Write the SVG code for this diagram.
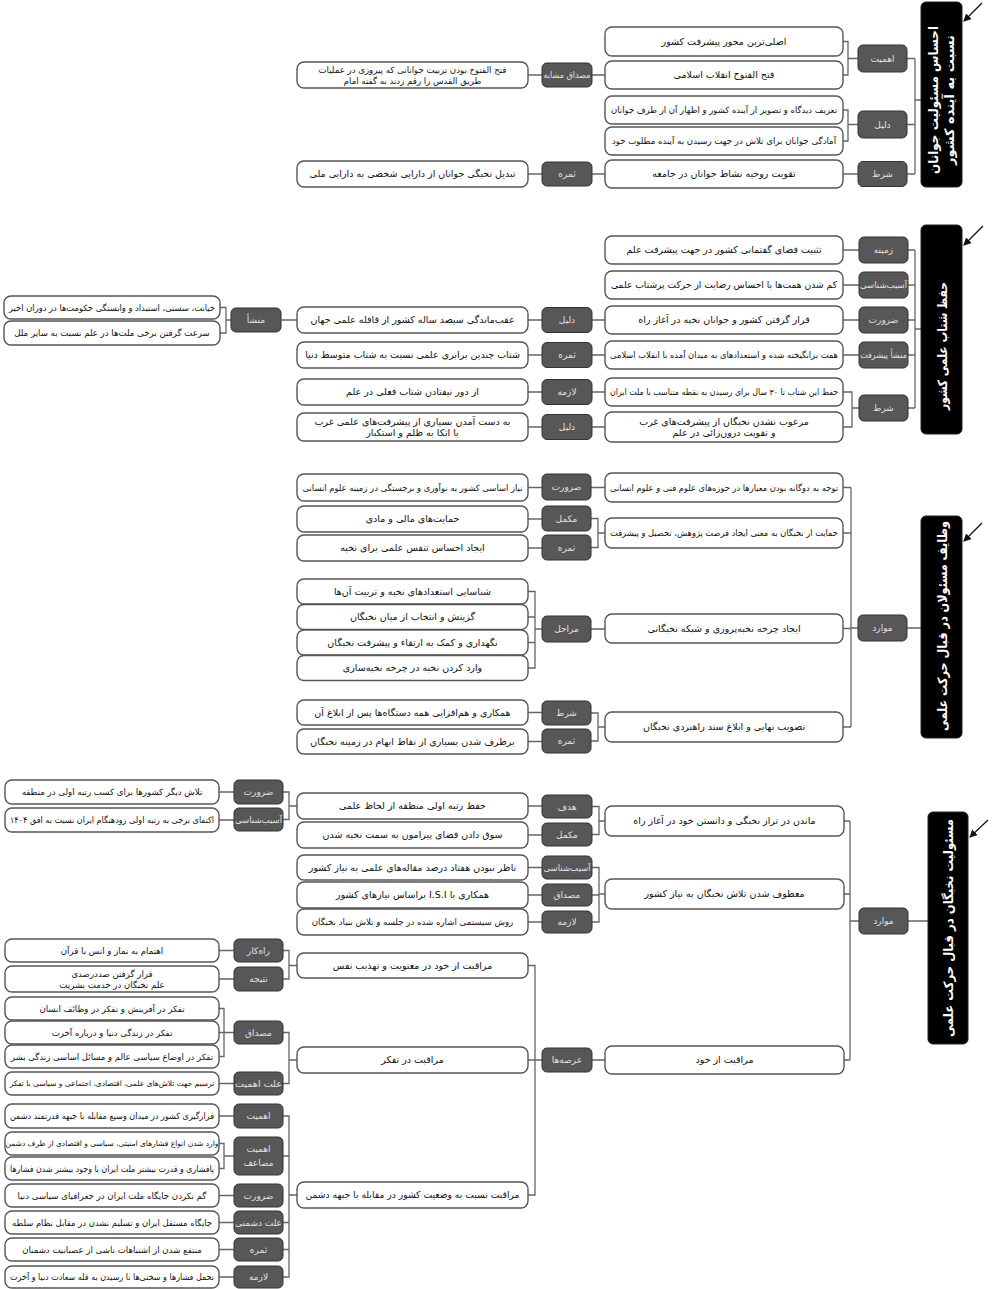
<svg xmlns="http://www.w3.org/2000/svg" width="993" height="1289" viewBox="0 0 993 1289">
<defs>
<style>
.b{fill:#fff;stroke:#555;stroke-width:1.4}
.l{fill:#575757;stroke:#333;stroke-width:1}
.k{fill:#000;stroke:#222;stroke-width:1}
.c{fill:none;stroke:#666;stroke-width:1.3}
.a{fill:none;stroke:#111;stroke-width:1.2}
text{font-family:"DejaVu Sans",sans-serif;direction:rtl;text-anchor:middle}
.bt{font-size:9.5px;fill:#111}
.st{font-size:8.6px;fill:#111}
.xt{font-size:7.5px;fill:#111}
.lt{font-size:9px;fill:#e2e2e2}
.tt{font-size:13px;font-weight:bold;fill:#fff}
</style>
<marker id="ah" markerWidth="8" markerHeight="8" refX="7" refY="4" orient="auto" markerUnits="userSpaceOnUse">
<path d="M0,0 L8,4 L0,8 z" fill="#111"/>
</marker>
</defs>
<rect width="993" height="1289" fill="#fff"/>

<g id="connectors">
<path class="c" d="M915,100H921M915,58.5V174M907,58.5H915M907,124.5H915M907,174H915"/>
<path class="c" d="M843,41.5H848V75H843M848,58.5H858M843,110H848V141H843M848,124.5H858M843,174H858"/>
<path class="c" d="M592,75H605M528,75H542M592,174H605M528,174H542"/>
<path class="c" d="M915,250V408M915,329H921M907,250H915M907,285H915M907,320H915M907,355H915M907,408H915"/>
<path class="c" d="M843,250H859M843,285H859M843,320H859M843,355H859M843,392H852V427H843M852,408H859"/>
<path class="c" d="M592,320H605M528,320H542M592,355H605M528,355H542M592,392H605M528,392H542M592,427H605M528,427H542"/>
<path class="c" d="M281,320H297M220,307.5H226V333H220M226,320H231"/>
<path class="c" d="M851,487.5V727M843,487.5H851M843,533H851M843,628.5H851M843,727H851M851,628H858M907,628H921"/>
<path class="c" d="M591,487.5H605M528,487.5H542M591,518.5H598V547.5H591M598,533H605M528,519H542M528,548H542M591,629H605"/>
<path class="c" d="M528,591.5H535V668H528M528,617H535M528,642.5H535M535,629H542"/>
<path class="c" d="M591,713H598V741H591M598,727H605M528,712.5H542M528,741.5H542"/>
<path class="c" d="M908,921H928M850,921H859M850,821V1060M844,821H850M844,894H850M844,1060H850"/>
<path class="c" d="M592,806.5H599V834.5H592M599,821H605M592,867.5H599V922H592M592,895H599M599,894H605"/>
<path class="c" d="M528,806H542M528,835H542M528,867.5H542M528,895H542M528,922H542M592,1060H605"/>
<path class="c" d="M528,965.5H535V1195H528M528,1060H542"/>
<path class="c" d="M219,792H234M219,820H234M283,792H289V819.5H283M289,806H297"/>
<path class="c" d="M219,950.5H234M219,979H234M283,950.5H289V979H283M289,965.5H297"/>
<path class="c" d="M219,1008.5H224V1056.5H219M219,1032.5H234M283,1032.5H289V1083.5H283M289,1060H297M219,1083.5H234"/>
<path class="c" d="M219,1116H234M219,1143.5H224V1168.5H219M224,1156H234M219,1195.5H234M219,1222.5H234M219,1249.5H234M219,1277H234"/>
<path class="c" d="M283,1116H289V1277H283M283,1156H289M289,1195H297M283,1222.5H289M283,1249.5H289"/>
<line class="a" x1="982" y1="3" x2="964" y2="21" marker-end="url(#ah)"/>
<line class="a" x1="983" y1="226" x2="964" y2="245" marker-end="url(#ah)"/>
<line class="a" x1="982" y1="523" x2="964" y2="541" marker-end="url(#ah)"/>
<line class="a" x1="988" y1="820" x2="970" y2="837" marker-end="url(#ah)"/>
</g>

<!-- SECTION 1 -->
<g id="t1"><rect class="k" x="921" y="2" width="41" height="185" rx="5"/>
<text class="tt" transform="translate(941.5,100) rotate(-90)"><tspan x="0" y="-3.5" textLength="148" lengthAdjust="spacingAndGlyphs">احساس مسئولیت جوانان</tspan><tspan x="0" y="12.5" textLength="130" lengthAdjust="spacingAndGlyphs">نسبت به آینده کشور</tspan></text></g>
<g id="l1a"><rect class="l" x="858" y="45" width="49" height="27" rx="5"/><text class="lt" x="882.5" y="61.5">اهمیت</text></g>
<g id="l1b"><rect class="l" x="858" y="111" width="49" height="27" rx="5"/><text class="lt" x="882.5" y="127.5">دلیل</text></g>
<g id="l1c"><rect class="l" x="858" y="161.5" width="49" height="25" rx="5"/><text class="lt" x="882.5" y="177">شرط</text></g>
<g id="b1a"><rect class="b" x="605" y="27" width="238" height="29" rx="7"/><text class="bt" x="724" y="45">اصلی&#8204;ترین محور پیشرفت کشور</text></g>
<g id="b1b"><rect class="b" x="605" y="61" width="238" height="28" rx="7"/><text class="bt" x="724" y="78.3">فتح الفتوح انقلاب اسلامی</text></g>
<g id="b1c"><rect class="b" x="605" y="96" width="238" height="28" rx="7"/><text class="st" x="724" y="113.3" textLength="226" lengthAdjust="spacingAndGlyphs">تعریف دیدگاه و تصویر از آینده کشور و اظهار آن از طرف جوانان</text></g>
<g id="b1d"><rect class="b" x="605" y="127" width="238" height="28" rx="7"/><text class="st" x="724" y="144.3">آمادگی جوانان برای تلاش در جهت رسیدن به آینده مطلوب خود</text></g>
<g id="b1e"><rect class="b" x="605" y="160" width="238" height="28" rx="7"/><text class="bt" x="724" y="177.3">تقویت روحیه نشاط جوانان در جامعه</text></g>
<g id="l1d"><rect class="l" x="542" y="63" width="50" height="24" rx="5"/><text class="lt" x="567" y="78" textLength="47" lengthAdjust="spacingAndGlyphs">مصداق مشابه</text></g>
<g id="m1a"><rect class="b" x="297" y="62" width="231" height="26" rx="7"/><text class="st"><tspan x="412.5" y="72.5">فتح الفتوح بودن تربیت جوانانی که پیروزی در عملیات</tspan><tspan x="412.5" y="83.5">طریق القدس را رقم زدند به گفته امام</tspan></text></g>
<g id="l1e"><rect class="l" x="542" y="162" width="50" height="24" rx="5"/><text class="lt" x="567" y="177">ثمره</text></g>
<g id="m1b"><rect class="b" x="297" y="161" width="231" height="26" rx="7"/><text class="bt" x="412.5" y="177.3">تبدیل نخبگی جوانان از دارایی شخصی به دارایی ملی</text></g>

<!-- SECTION 2 -->
<g id="t2"><rect class="k" x="921" y="225" width="41" height="209" rx="5"/>
<text class="tt" transform="translate(941.5,346) rotate(-90)" x="0" y="5" textLength="128" lengthAdjust="spacingAndGlyphs">حفظ شتاب علمی کشور</text></g>
<g id="l2a"><rect class="l" x="859" y="237" width="49" height="26" rx="5"/><text class="lt" x="883.5" y="253">زمینه</text></g>
<g id="l2b"><rect class="l" x="859" y="272" width="49" height="26" rx="5"/><text class="lt" x="883.5" y="288" textLength="47" lengthAdjust="spacingAndGlyphs">آسیب&#8204;شناسی</text></g>
<g id="l2c"><rect class="l" x="859" y="307" width="49" height="26" rx="5"/><text class="lt" x="883.5" y="323">ضرورت</text></g>
<g id="l2d"><rect class="l" x="859" y="342" width="49" height="26" rx="5"/><text class="lt" x="883.5" y="358" textLength="47" lengthAdjust="spacingAndGlyphs">منشأ پیشرفت</text></g>
<g id="l2e"><rect class="l" x="859" y="395" width="49" height="26" rx="5"/><text class="lt" x="883.5" y="411">شرط</text></g>
<g id="b2a"><rect class="b" x="605" y="236" width="238" height="28" rx="7"/><text class="bt" x="724" y="253.3">تثبیت فضای گفتمانی کشور در جهت پیشرفت علم</text></g>
<g id="b2b"><rect class="b" x="605" y="271" width="238" height="28" rx="7"/><text class="bt" x="724" y="288.3" textLength="226" lengthAdjust="spacingAndGlyphs">کم شدن همت&#8204;ها با احساس رضایت از حرکت پرشتاب علمی</text></g>
<g id="b2c"><rect class="b" x="605" y="306" width="238" height="28" rx="7"/><text class="bt" x="724" y="323.3">قرار گرفتن کشور و جوانان نخبه در آغاز راه</text></g>
<g id="b2d"><rect class="b" x="605" y="341" width="238" height="28" rx="7"/><text class="st" x="724" y="358.3" textLength="228" lengthAdjust="spacingAndGlyphs">همت برانگیخته شده و استعدادهای به میدان آمده با انقلاب اسلامی</text></g>
<g id="b2e"><rect class="b" x="605" y="378" width="238" height="28" rx="7"/><text class="st" x="724" y="395.3" textLength="228" lengthAdjust="spacingAndGlyphs">حفظ این شتاب تا ۳۰ سال برای رسیدن به نقطه متناسب با ملت ایران</text></g>
<g id="b2f"><rect class="b" x="605" y="412" width="238" height="30" rx="7"/><text class="bt"><tspan x="724" y="424.5">مرعوب نشدن نخبگان از پیشرفت&#8204;های غرب</tspan><tspan x="724" y="436">و تقویت درون&#8204;زائی در علم</tspan></text></g>
<g id="l2f"><rect class="l" x="542" y="307.5" width="50" height="25" rx="5"/><text class="lt" x="567" y="323">دلیل</text></g>
<g id="l2g"><rect class="l" x="542" y="342.5" width="50" height="25" rx="5"/><text class="lt" x="567" y="358">ثمره</text></g>
<g id="l2h"><rect class="l" x="542" y="379.5" width="50" height="25" rx="5"/><text class="lt" x="567" y="395">لازمه</text></g>
<g id="l2i"><rect class="l" x="542" y="414.5" width="50" height="25" rx="5"/><text class="lt" x="567" y="430">دلیل</text></g>
<g id="m2a"><rect class="b" x="297" y="307" width="231" height="26" rx="7"/><text class="bt" x="412.5" y="323.3">عقب&#8204;ماندگی سیصد ساله کشور از قافله علمی جهان</text></g>
<g id="m2b"><rect class="b" x="297" y="342" width="231" height="26" rx="7"/><text class="bt" x="412.5" y="358.3">شتاب چندین برابری علمی نسبت به شتاب متوسط دنیا</text></g>
<g id="m2c"><rect class="b" x="297" y="379" width="231" height="26" rx="7"/><text class="bt" x="412.5" y="395.3">از دور نیفتادن شتاب فعلی در علم</text></g>
<g id="m2d"><rect class="b" x="297" y="413" width="231" height="28" rx="7"/><text class="bt"><tspan x="412.5" y="424.5">به دست آمدن بسیاری از پیشرفت&#8204;های علمی غرب</tspan><tspan x="412.5" y="435.5">با اتکا به ظلم و استکبار</tspan></text></g>
<g id="l2j"><rect class="l" x="231" y="308" width="50" height="24" rx="5"/><text class="lt" x="256" y="323">منشأ</text></g>
<g id="e2a"><rect class="b" x="4" y="296" width="216" height="23" rx="7"/><text class="st" x="112" y="310.5" textLength="206" lengthAdjust="spacingAndGlyphs">خیانت، سستی، استبداد و وابستگی حکومت&#8204;ها در دوران اخیر</text></g>
<g id="e2b"><rect class="b" x="4" y="321" width="216" height="24" rx="7"/><text class="st" x="112" y="336">سرعت گرفتن برخی ملت&#8204;ها در علم نسبت به سایر ملل</text></g>

<!-- SECTION 3 -->
<g id="t3"><rect class="k" x="921" y="516" width="41" height="222" rx="5"/>
<text class="tt" transform="translate(941.5,626) rotate(-90)" x="0" y="5" textLength="210" lengthAdjust="spacingAndGlyphs">وظایف مسئولان در قبال حرکت علمی</text></g>
<g id="l3a"><rect class="l" x="858" y="615" width="49" height="26" rx="5"/><text class="lt" x="882.5" y="631">موارد</text></g>
<g id="b3a"><rect class="b" x="605" y="473" width="238" height="29" rx="7"/><text class="st" x="724" y="490.8" textLength="228" lengthAdjust="spacingAndGlyphs">توجه به دوگانه بودن معیارها در حوزه&#8204;های علوم فنی و علوم انسانی</text></g>
<g id="b3b"><rect class="b" x="605" y="518" width="238" height="30" rx="7"/><text class="st" x="724" y="536.3" textLength="228" lengthAdjust="spacingAndGlyphs">حمایت از نخبگان به معنی ایجاد فرصت پژوهش، تحصیل و پیشرفت</text></g>
<g id="b3c"><rect class="b" x="605" y="614" width="238" height="29" rx="7"/><text class="bt" x="724" y="631.8">ایجاد چرخه نخبه&#8204;پروری و شبکه نخبگانی</text></g>
<g id="b3d"><rect class="b" x="605" y="712" width="238" height="30" rx="7"/><text class="bt" x="724" y="730.3">تصویب نهایی و ابلاغ سند راهبردی نخبگان</text></g>
<g id="l3b"><rect class="l" x="542" y="474" width="49" height="26" rx="5"/><text class="lt" x="566.5" y="490">ضرورت</text></g>
<g id="l3c"><rect class="l" x="542" y="506" width="49" height="25" rx="5"/><text class="lt" x="566.5" y="521.5">مکمل</text></g>
<g id="l3d"><rect class="l" x="542" y="535" width="49" height="25" rx="5"/><text class="lt" x="566.5" y="550.5">ثمره</text></g>
<g id="l3e"><rect class="l" x="542" y="616" width="49" height="26" rx="5"/><text class="lt" x="566.5" y="632">مراحل</text></g>
<g id="l3f"><rect class="l" x="542" y="701" width="49" height="24" rx="5"/><text class="lt" x="566.5" y="716">شرط</text></g>
<g id="l3g"><rect class="l" x="542" y="729" width="49" height="24" rx="5"/><text class="lt" x="566.5" y="744">ثمره</text></g>
<g id="m3a"><rect class="b" x="297" y="474" width="231" height="27" rx="7"/><text class="st" x="412.5" y="490.5" textLength="220" lengthAdjust="spacingAndGlyphs">نیاز اساسی کشور به نوآوری و برجستگی در زمینه علوم انسانی</text></g>
<g id="m3b"><rect class="b" x="297" y="506" width="231" height="26" rx="7"/><text class="bt" x="412.5" y="522.3">حمایت&#8204;های مالی و مادی</text></g>
<g id="m3c"><rect class="b" x="297" y="535" width="231" height="26" rx="7"/><text class="bt" x="412.5" y="551.3">ایجاد احساس تنفس علمی برای نخبه</text></g>
<g id="m3d"><rect class="b" x="297" y="579" width="231" height="25" rx="7"/><text class="bt" x="412.5" y="594.8">شناسایی استعدادهای نخبه و تربیت آن&#8204;ها</text></g>
<g id="m3e"><rect class="b" x="297" y="604.5" width="231" height="25" rx="7"/><text class="bt" x="412.5" y="620.3">گزینش و انتخاب از میان نخبگان</text></g>
<g id="m3f"><rect class="b" x="297" y="630" width="231" height="25" rx="7"/><text class="bt" x="412.5" y="645.8">نگهداری و کمک به ارتقاء و پیشرفت نخبگان</text></g>
<g id="m3g"><rect class="b" x="297" y="655.5" width="231" height="25" rx="7"/><text class="bt" x="412.5" y="671.3">وارد کردن نخبه در چرخه نخبه&#8204;سازی</text></g>
<g id="m3h"><rect class="b" x="297" y="700" width="231" height="25" rx="7"/><text class="bt" x="412.5" y="715.8">همکاری و هم&#8204;افزایی همه دستگاه&#8204;ها پس از ابلاغ آن</text></g>
<g id="m3i"><rect class="b" x="297" y="729" width="231" height="25" rx="7"/><text class="bt" x="412.5" y="744.8">برطرف شدن بسیاری از نقاط ابهام در زمینه نخبگان</text></g>

<!-- SECTION 4 -->
<g id="t4"><rect class="k" x="928" y="812" width="40" height="232" rx="5"/>
<text class="tt" transform="translate(948,928) rotate(-90)" x="0" y="5" textLength="218" lengthAdjust="spacingAndGlyphs">مسئولیت نخبگان در قبال حرکت علمی</text></g>
<g id="l4a"><rect class="l" x="859" y="908" width="49" height="26" rx="5"/><text class="lt" x="883.5" y="924">موارد</text></g>
<g id="b4a"><rect class="b" x="605" y="806" width="239" height="30" rx="7"/><text class="bt" x="724.5" y="824.3">ماندن در تراز نخبگی و دانستن خود در آغاز راه</text></g>
<g id="b4b"><rect class="b" x="605" y="879" width="239" height="30" rx="7"/><text class="bt" x="724.5" y="897.3">معطوف شدن تلاش نخبگان به نیاز کشور</text></g>
<g id="b4c"><rect class="b" x="605" y="1046" width="239" height="28" rx="7"/><text class="bt" x="724.5" y="1063.3">مراقبت از خود</text></g>
<g id="l4b"><rect class="l" x="542" y="795" width="50" height="23" rx="5"/><text class="lt" x="567" y="809.5">هدف</text></g>
<g id="l4c"><rect class="l" x="542" y="823" width="50" height="23" rx="5"/><text class="lt" x="567" y="837.5">مکمل</text></g>
<g id="l4d"><rect class="l" x="542" y="856" width="50" height="23" rx="5"/><text class="lt" x="567" y="870.5" textLength="47" lengthAdjust="spacingAndGlyphs">آسیب&#8204;شناسی</text></g>
<g id="l4e"><rect class="l" x="542" y="884" width="50" height="22" rx="5"/><text class="lt" x="567" y="898">مصداق</text></g>
<g id="l4f"><rect class="l" x="542" y="911" width="50" height="22" rx="5"/><text class="lt" x="567" y="925">لازمه</text></g>
<g id="l4g"><rect class="l" x="542" y="1048" width="50" height="24" rx="5"/><text class="lt" x="567" y="1063">عرصه&#8204;ها</text></g>
<g id="m4a"><rect class="b" x="297" y="793" width="231" height="26" rx="7"/><text class="bt" x="412.5" y="809.3">حفظ رتبه اولی منطقه از لحاظ علمی</text></g>
<g id="m4b"><rect class="b" x="297" y="822" width="231" height="26" rx="7"/><text class="bt" x="412.5" y="838.3">سوق دادن فضای پیرامون به سمت نخبه شدن</text></g>
<g id="m4c"><rect class="b" x="297" y="855" width="231" height="25" rx="7"/><text class="bt" x="412.5" y="870.8">ناظر نبودن هفتاد درصد مقاله&#8204;های علمی به نیاز کشور</text></g>
<g id="m4d"><rect class="b" x="297" y="882" width="231" height="26" rx="7"/><text class="bt" x="412.5" y="898.3">همکاری با I.S.I براساس نیازهای کشور</text></g>
<g id="m4e"><rect class="b" x="297" y="909" width="231" height="26" rx="7"/><text class="st" x="412.5" y="925.3">روش سیستمی اشاره شده در جلسه و تلاش بنیاد نخبگان</text></g>
<g id="m4f"><rect class="b" x="297" y="953" width="231" height="25" rx="7"/><text class="bt" x="412.5" y="968.8">مراقبت از خود در معنویت و تهذیب نفس</text></g>
<g id="m4g"><rect class="b" x="297" y="1047" width="231" height="26" rx="7"/><text class="bt" x="412.5" y="1063.3">مراقبت در تفکر</text></g>
<g id="m4h"><rect class="b" x="297" y="1182" width="231" height="26" rx="7"/><text class="bt" x="412.5" y="1198.3" textLength="214" lengthAdjust="spacingAndGlyphs">مراقبت نسبت به وضعیت کشور در مقابله با جبهه دشمن</text></g>
<g id="l4h"><rect class="l" x="234" y="780" width="49" height="24" rx="5"/><text class="lt" x="258.5" y="795">ضرورت</text></g>
<g id="l4i"><rect class="l" x="234" y="808" width="49" height="23" rx="5"/><text class="lt" x="258.5" y="822.5" textLength="47" lengthAdjust="spacingAndGlyphs">آسیب&#8204;شناسی</text></g>
<g id="l4j"><rect class="l" x="234" y="939" width="49" height="23" rx="5"/><text class="lt" x="258.5" y="953.5">راه&#8204;کار</text></g>
<g id="l4k"><rect class="l" x="234" y="967" width="49" height="24" rx="5"/><text class="lt" x="258.5" y="982">نتیجه</text></g>
<g id="l4l"><rect class="l" x="234" y="1021" width="49" height="23" rx="5"/><text class="lt" x="258.5" y="1035.5">مصداق</text></g>
<g id="l4m"><rect class="l" x="234" y="1072" width="49" height="23" rx="5"/><text class="lt" x="258.5" y="1086.5" textLength="47" lengthAdjust="spacingAndGlyphs">علت اهمیت</text></g>
<g id="l4n"><rect class="l" x="234" y="1104" width="49" height="24" rx="5"/><text class="lt" x="258.5" y="1119">اهمیت</text></g>
<g id="l4o"><rect class="l" x="234" y="1137" width="49" height="38" rx="5"/><text class="lt"><tspan x="258.5" y="1152">اهمیت</tspan><tspan x="258.5" y="1166">مضاعف</tspan></text></g>
<g id="l4p"><rect class="l" x="234" y="1184" width="49" height="23" rx="5"/><text class="lt" x="258.5" y="1198.5">ضرورت</text></g>
<g id="l4q"><rect class="l" x="234" y="1211" width="49" height="23" rx="5"/><text class="lt" x="258.5" y="1225.5" textLength="47" lengthAdjust="spacingAndGlyphs">علت دشمنی</text></g>
<g id="l4r"><rect class="l" x="234" y="1238" width="49" height="23" rx="5"/><text class="lt" x="258.5" y="1252.5">ثمره</text></g>
<g id="l4s"><rect class="l" x="234" y="1266" width="49" height="22" rx="5"/><text class="lt" x="258.5" y="1280">لازمه</text></g>
<g id="e4a"><rect class="b" x="5" y="780" width="214" height="24" rx="7"/><text class="st" x="112" y="795">تلاش دیگر کشورها برای کسب رتبه اولی در منطقه</text></g>
<g id="e4b"><rect class="b" x="5" y="808" width="214" height="24" rx="7"/><text class="st" x="112" y="823" textLength="204" lengthAdjust="spacingAndGlyphs">اکتفای برخی به رتبه اولی زودهنگام ایران نسبت به افق ۱۴۰۴</text></g>
<g id="e4c"><rect class="b" x="5" y="939" width="214" height="23" rx="7"/><text class="st" x="112" y="953.5">اهتمام به نماز و انس با قرآن</text></g>
<g id="e4d"><rect class="b" x="5" y="966" width="214" height="26" rx="7"/><text class="st"><tspan x="112" y="976.5">قرار گرفتن صددرصدی</tspan><tspan x="112" y="987.5">علم نخبگان در خدمت بشریت</tspan></text></g>
<g id="e4e"><rect class="b" x="5" y="997" width="214" height="23" rx="7"/><text class="st" x="112" y="1011.5">تفکر در آفرینش و تفکر در وظائف انسان</text></g>
<g id="e4f"><rect class="b" x="5" y="1021" width="214" height="23" rx="7"/><text class="st" x="112" y="1035.5">تفکر در زندگی دنیا و درباره آخرت</text></g>
<g id="e4g"><rect class="b" x="5" y="1045" width="214" height="23" rx="7"/><text class="st" x="112" y="1059.5" textLength="202" lengthAdjust="spacingAndGlyphs">تفکر در اوضاع سیاسی عالم و مسائل اساسی زندگی بشر</text></g>
<g id="e4h"><rect class="b" x="5" y="1072" width="214" height="23" rx="7"/><text class="xt" x="112" y="1086.3">ترسیم جهت تلاش&#8204;های علمی، اقتصادی، اجتماعی و سیاسی با تفکر</text></g>
<g id="e4i"><rect class="b" x="5" y="1104" width="214" height="24" rx="7"/><text class="st" x="112" y="1119" textLength="204" lengthAdjust="spacingAndGlyphs">قرارگیری کشور در میدان وسیع مقابله با جبهه قدرتمند دشمن</text></g>
<g id="e4j"><rect class="b" x="5" y="1132" width="214" height="23" rx="7"/><text class="xt" x="112" y="1146.3">وارد شدن انواع فشارهای امنیتی، سیاسی و اقتصادی از طرف دشمن</text></g>
<g id="e4k"><rect class="b" x="5" y="1157" width="214" height="23" rx="7"/><text class="st" x="112" y="1171.5" textLength="204" lengthAdjust="spacingAndGlyphs">پافشاری و قدرت بیشتر ملت ایران با وجود بیشتر شدن فشارها</text></g>
<g id="e4l"><rect class="b" x="5" y="1184" width="214" height="23" rx="7"/><text class="st" x="112" y="1198.5">گم نکردن جایگاه ملت ایران در جغرافیای سیاسی دنیا</text></g>
<g id="e4m"><rect class="b" x="5" y="1211" width="214" height="23" rx="7"/><text class="st" x="112" y="1225.5" textLength="200" lengthAdjust="spacingAndGlyphs">جایگاه مستقل ایران و تسلیم نشدن در مقابل نظام سلطه</text></g>
<g id="e4n"><rect class="b" x="5" y="1238" width="214" height="23" rx="7"/><text class="st" x="112" y="1252.5">منتفع شدن از اشتباهات ناشی از عصبانیت دشمنان</text></g>
<g id="e4o"><rect class="b" x="5" y="1266" width="214" height="22" rx="7"/><text class="st" x="112" y="1280" textLength="204" lengthAdjust="spacingAndGlyphs">تحمل فشارها و سختی&#8204;ها تا رسیدن به قله سعادت دنیا و آخرت</text></g>
</svg>
